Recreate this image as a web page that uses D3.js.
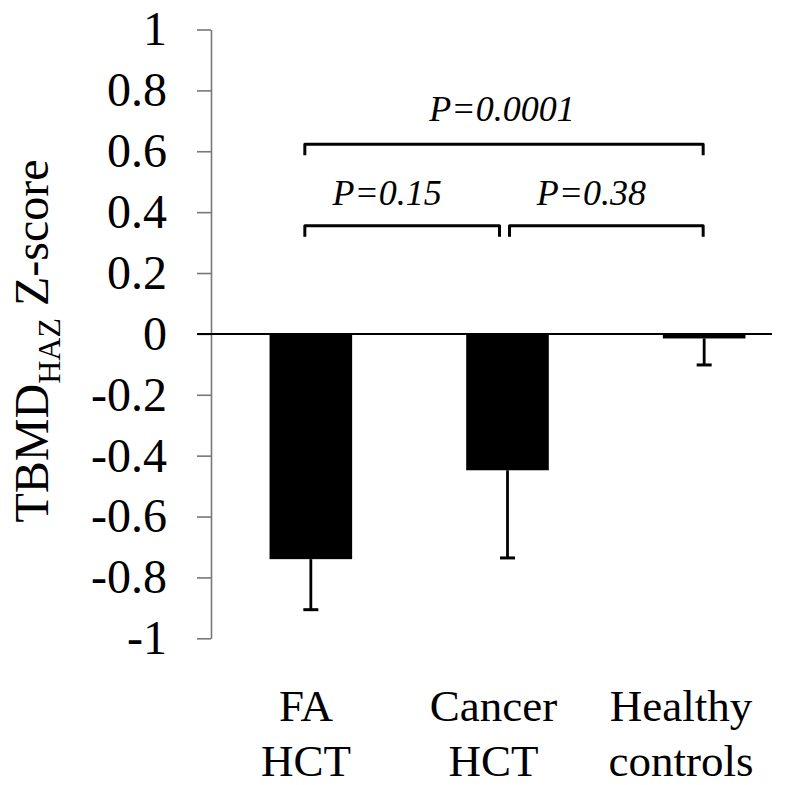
<!DOCTYPE html>
<html>
<head>
<meta charset="utf-8">
<script src="https://cdn.jsdelivr.net/npm/d3@7"></script>
<style>
  body { margin: 0; background: #fff; }
  svg text { font-family: 'Liberation Serif', 'Tinos', 'Times New Roman', 'DejaVu Serif', serif; fill: #000; }
</style>
</head>
<body>
<div id="chart"></div>
<script>
// Data
//= ================================
var categories = ["FA HCT", "Cancer HCT", "Healthy controls"];
var labelLines = [["FA", "HCT"], ["Cancer", "HCT"], ["Healthy", "controls"]];
var means = [-0.74, -0.448, -0.015];
var errors = [0.166, 0.288, 0.087];   // drawn downward only
var yTicks = [1, 0.8, 0.6, 0.4, 0.2, 0, -0.2, -0.4, -0.6, -0.8, -1];

// p-value brackets: from category a to category b, at value level
var bracketFrom = [0, 0, 1];
var bracketTo = [2, 1, 2];
var bracketLevel = [0.623, 0.355, 0.355];
var bracketText = ["P=0.0001", "P=0.15", "P=0.38"];

// Setup the chart
//= ================================
var svgWidth = 787;
var svgHeight = 785;
var serif = "'Liberation Serif', 'Tinos', 'Times New Roman', 'DejaVu Serif', serif";

var svg = d3.select("#chart")
    .append("svg")
    .attr("width", svgWidth)
    .attr("height", svgHeight)
    .style("font-family", serif);

var yScale = d3.scaleLinear()
    .domain([-1, 1])
    .range([638.3, 29.5]);

var xScale = d3.scaleBand()
    .domain(categories)
    .range([212.5, 802.5])
    .paddingInner(0.58)
    .paddingOuter(0.29);

// category labels sit a little left of the bars, as in the original
var labelX = d3.scalePoint()
    .domain(categories)
    .range([306, 681]);

var axisX = 211;

// Y axis
var leftAxis = d3.axisLeft(yScale)
    .tickValues(yTicks)
    .tickFormat(d => String(+d.toFixed(1)))
    .tickSize(14)
    .tickSizeOuter(0)
    .tickPadding(30);

var yAxis = svg.append("g")
    .attr("transform", `translate(${axisX}, 0)`)
    .call(leftAxis)
    .attr("font-family", serif)
    .attr("font-size", 48);

yAxis.select(".domain").attr("stroke", "#777").attr("stroke-width", 1.6);
yAxis.selectAll(".tick line").attr("stroke", "#777").attr("stroke-width", 1.6);
yAxis.selectAll(".tick text")
    .style("font-family", serif)
    .attr("fill", "#000");

// Bars
svg.selectAll("rect.bar")
    .data(categories)
    .enter()
    .append("rect")
    .attr("class", "bar")
    .attr("x", d => xScale(d))
    .attr("width", xScale.bandwidth())
    .attr("y", yScale(0))
    .attr("height", (d, i) => yScale(means[i]) - yScale(0))
    .attr("fill", "#000");

// Error bars
var cx = d => xScale(d) + xScale.bandwidth() / 2;
svg.selectAll("line.err")
    .data(categories)
    .enter()
    .append("line")
    .attr("class", "err")
    .attr("x1", cx).attr("x2", cx)
    .attr("y1", (d, i) => yScale(means[i]))
    .attr("y2", (d, i) => yScale(means[i] - errors[i]))
    .attr("stroke", "#000")
    .attr("stroke-width", 2.8);

svg.selectAll("line.cap")
    .data(categories)
    .enter()
    .append("line")
    .attr("class", "cap")
    .attr("x1", d => cx(d) - 7.5).attr("x2", d => cx(d) + 7.5)
    .attr("y1", (d, i) => yScale(means[i] - errors[i]))
    .attr("y2", (d, i) => yScale(means[i] - errors[i]))
    .attr("stroke", "#000")
    .attr("stroke-width", 3);

// Zero line
svg.append("line")
    .attr("x1", axisX - 14)
    .attr("x2", 772)
    .attr("y1", yScale(0))
    .attr("y2", yScale(0))
    .attr("stroke", "#000")
    .attr("stroke-width", 2);

// Category labels
labelLines.forEach(function (lines, i) {
    var t = svg.append("text")
        .attr("x", labelX(categories[i]))
        .attr("y", 721)
        .attr("text-anchor", "middle")
        .attr("font-size", "45px");
    lines.forEach(function (line, j) {
        t.append("tspan")
            .attr("x", labelX(categories[i]))
            .attr("dy", j === 0 ? 0 : 55)
            .text(line);
    });
});

// Brackets with p-values
bracketText.forEach(function (txt, i) {
    var a = categories[bracketFrom[i]];
    var b = categories[bracketTo[i]];
    var last = categories.length - 1;
    var x1 = cx(a) + (bracketFrom[i] === 0 ? -6 : 2);
    var x2 = cx(b) + (bracketTo[i] === last ? -1 : -8);
    var y = yScale(bracketLevel[i]);
    svg.append("path")
        .attr("d", `M${x1},${y + 11} L${x1},${y} L${x2},${y} L${x2},${y + 11}`)
        .attr("fill", "none")
        .attr("stroke", "#000")
        .attr("stroke-width", 3)
        .attr("stroke-linejoin", "round");
    var wide = bracketTo[i] - bracketFrom[i] > 1;
    svg.append("text")
        .attr("x", (x1 + x2) / 2 + (wide ? -2 : -15))
        .attr("y", y - (wide ? 23.6 : 20.7))
        .attr("text-anchor", "middle")
        .attr("font-size", "36px")
        .attr("font-style", "italic")
        .text(txt);
});

// Y axis label
var yLabel = svg.append("text")
    .attr("transform", "translate(48, 341) rotate(-90)")
    .attr("text-anchor", "middle")
    .attr("font-size", "48px");
yLabel.append("tspan").text("TBMD");
yLabel.append("tspan").attr("font-size", "32px").attr("dy", 12).text("HAZ");
yLabel.append("tspan").attr("dy", -12).text(" Z-score");
</script>
</body>
</html>
